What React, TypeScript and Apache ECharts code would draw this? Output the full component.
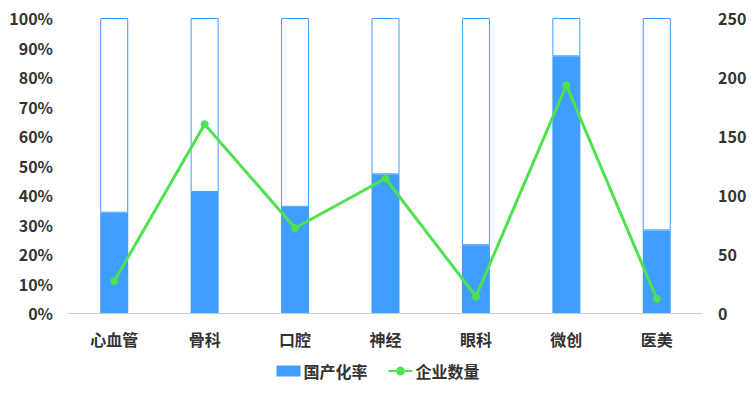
import React, { useEffect, useRef } from "react";
import * as echarts from "echarts";

const categories = ["心血管", "骨科", "口腔", "神经", "眼科", "微创", "医美"];
const localizationRate = [34, 41, 36, 47, 23, 87, 28];
const companyCount = [27, 160, 72, 114, 14, 193, 12];
const leftTicks = { min: 0, max: 100, interval: 10 };
const rightTicks = { min: 0, max: 250, interval: 50 };

export default function App() {
  const ref = useRef<HTMLDivElement>(null);
  useEffect(() => {
    const chart = echarts.init(ref.current!, undefined, { renderer: "svg" });
    const font = "'Microsoft YaHei', 'Noto Sans CJK SC', sans-serif";
    const labelStyle = { color: "#333", fontSize: 16, fontWeight: "bold" as const, fontFamily: font };
    chart.setOption({
      animation: false,
      textStyle: { fontFamily: font },
      grid: { left: 69, right: 54, top: 18, bottom: 85, containLabel: false },
      legend: {
        data: [
          { name: "国产化率", icon: "rect" },
          { name: "企业数量" },
        ],
        bottom: 14,
        itemWidth: 24,
        itemHeight: 11,
        itemGap: 20,
        textStyle: { ...labelStyle, padding: [0, 0, 0, -2] },
      },
      xAxis: {
        type: "category",
        data: categories,
        axisLine: { lineStyle: { color: "#ccc" } },
        axisTick: { show: false },
        axisLabel: { ...labelStyle, margin: 18 },
      },
      yAxis: [
        {
          type: "value",
          ...leftTicks,
          splitLine: { show: false },
          axisLine: { show: false },
          axisTick: { show: false },
          axisLabel: { ...labelStyle, margin: 16, formatter: "{value}%" },
        },
        {
          type: "value",
          ...rightTicks,
          splitLine: { show: false },
          axisLine: { show: false },
          axisTick: { show: false },
          axisLabel: { ...labelStyle, margin: 16 },
        },
      ],
      series: [
        {
          name: "国产化率",
          type: "bar",
          stack: "total",
          barWidth: 28,
          data: localizationRate,
          itemStyle: { color: "#409EFF" },
        },
        {
          name: "剩余",
          type: "bar",
          stack: "total",
          barWidth: 28,
          data: localizationRate.map((v) => 100 - v),
          itemStyle: { color: "#fff", borderColor: "#409EFF", borderWidth: 1 },
        },
        {
          name: "企业数量",
          type: "line",
          yAxisIndex: 1,
          data: companyCount,
          symbol: "circle",
          symbolSize: 8,
          lineStyle: { color: "#4EE34E", width: 3 },
          itemStyle: { color: "#4EE34E" },
        },
      ],
    });
    return () => chart.dispose();
  }, []);
  return <div ref={ref} style={{ width: 756, height: 398, position: "absolute", left: 0, top: 0 }} />;
}
